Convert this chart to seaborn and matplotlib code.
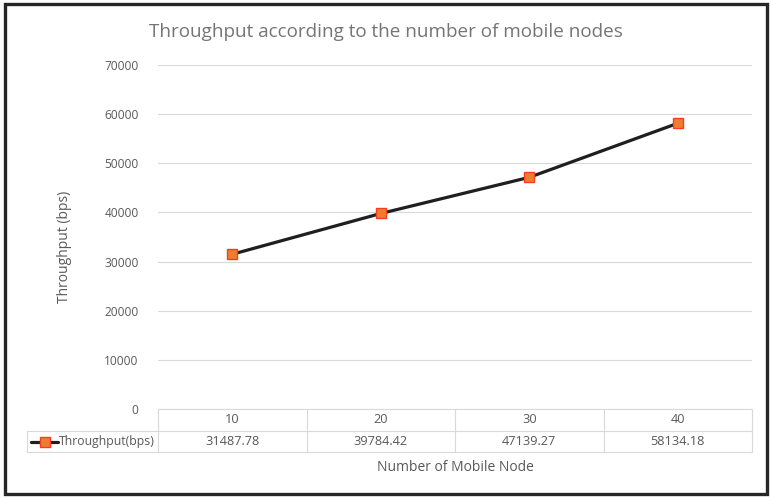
import matplotlib
matplotlib.use("Agg")
import matplotlib.pyplot as plt
import matplotlib.transforms as mtransforms
from matplotlib.lines import Line2D
from matplotlib.patches import Rectangle
import seaborn as sns
import pandas as pd

nodes = ["10", "20", "30", "40"]
throughput = [31487.78, 39784.42, 47139.27, 58134.18]
series_name = "Throughput(bps)"
title = "Throughput according to the number of mobile nodes"
x_label = "Number of Mobile Node"
y_label = "Throughput (bps)"
y_ticks = [0, 10000, 20000, 30000, 40000, 50000, 60000, 70000]

sns.set_theme(style="white")
plt.rcParams["font.family"] = ["Open Sans", "DejaVu Sans"]

TXT = "#595959"
GRID = "#d9d9d9"

df = pd.DataFrame({"node": range(len(nodes)), "tp": throughput})

fig = plt.figure(figsize=(7.71, 4.98), dpi=100)
ax = fig.add_axes([158 / 771, 1 - 409 / 498, 594 / 771, 344 / 498])

sns.lineplot(data=df, x="node", y="tp", ax=ax, color="#1f1f1f", lw=2.3,
             marker="s", markersize=6.5, markerfacecolor="#ED7D31",
             markeredgecolor="#FF3B1F", markeredgewidth=1.0, zorder=3)

ax.set_xlim(-0.5, len(nodes) - 0.5)
ax.set_ylim(0, 70000)
ax.set_yticks(y_ticks)
ax.set_yticklabels([str(v) for v in y_ticks], fontsize=8.6, color=TXT)
ax.set_xticks([])
ax.set_xlabel("")
ax.set_ylabel("")
ax.tick_params(axis="y", length=0, pad=14)
ax.grid(axis="y", color=GRID, lw=0.8)
for s in ax.spines.values():
    s.set_visible(False)

# data table under the plot
trans = mtransforms.blended_transform_factory(ax.transData, ax.transAxes)
row_h = 21.5 / 344
y0, y1, y2 = 0, -row_h, -2 * row_h
n = len(nodes)
line_kw = dict(color=GRID, lw=0.8, clip_on=False, transform=trans)
ax.plot([-0.5, n - 0.5], [y0, y0], **line_kw)
for y in (y1, y2):
    ax.plot([-0.5 - 131 / 148.5, n - 0.5], [y, y], **line_kw)
for i in range(n + 1):
    ax.plot([i - 0.5, i - 0.5], [y0, y2], **line_kw)
ax.plot([-0.5 - 131 / 148.5] * 2, [y1, y2], **line_kw)

for i, (lab, v) in enumerate(zip(nodes, throughput)):
    ax.text(i, (y0 + y1) / 2, lab, transform=trans, ha="center", va="center",
            fontsize=9.2, color=TXT)
    ax.text(i, (y1 + y2) / 2, f"{v:.2f}", transform=trans, ha="center",
            va="center", fontsize=9.2, color=TXT)

# legend key in the table
ym = 1 - 441.5 / 498
fig.add_artist(Line2D([31 / 771, 58 / 771], [ym, ym], color="#1f1f1f", lw=2.3))
fig.add_artist(Line2D([44.5 / 771], [ym], marker="s", markersize=6.5,
                      markerfacecolor="#ED7D31", markeredgecolor="#FF3B1F",
                      markeredgewidth=1.0, lw=0))
fig.text(59 / 771, ym, series_name, ha="left", va="center", fontsize=8.8,
         color=TXT)

fig.text(386 / 771, 1 - 32 / 498, title, ha="center", va="center",
         fontsize=13.6, color="#757575")
fig.text(455 / 771, 1 - 467 / 498, x_label, ha="center", va="center",
         fontsize=10, color=TXT)
fig.text(65 / 771, 1 - 247 / 498, y_label, ha="center", va="center",
         rotation=90, fontsize=10, color=TXT)

fig.add_artist(Rectangle((4.5 / 771, 4.5 / 498), 762 / 771, 489 / 498,
                         transform=fig.transFigure, fill=False,
                         edgecolor="#262626", lw=2.4))

fig.savefig("out.png", dpi=100)
